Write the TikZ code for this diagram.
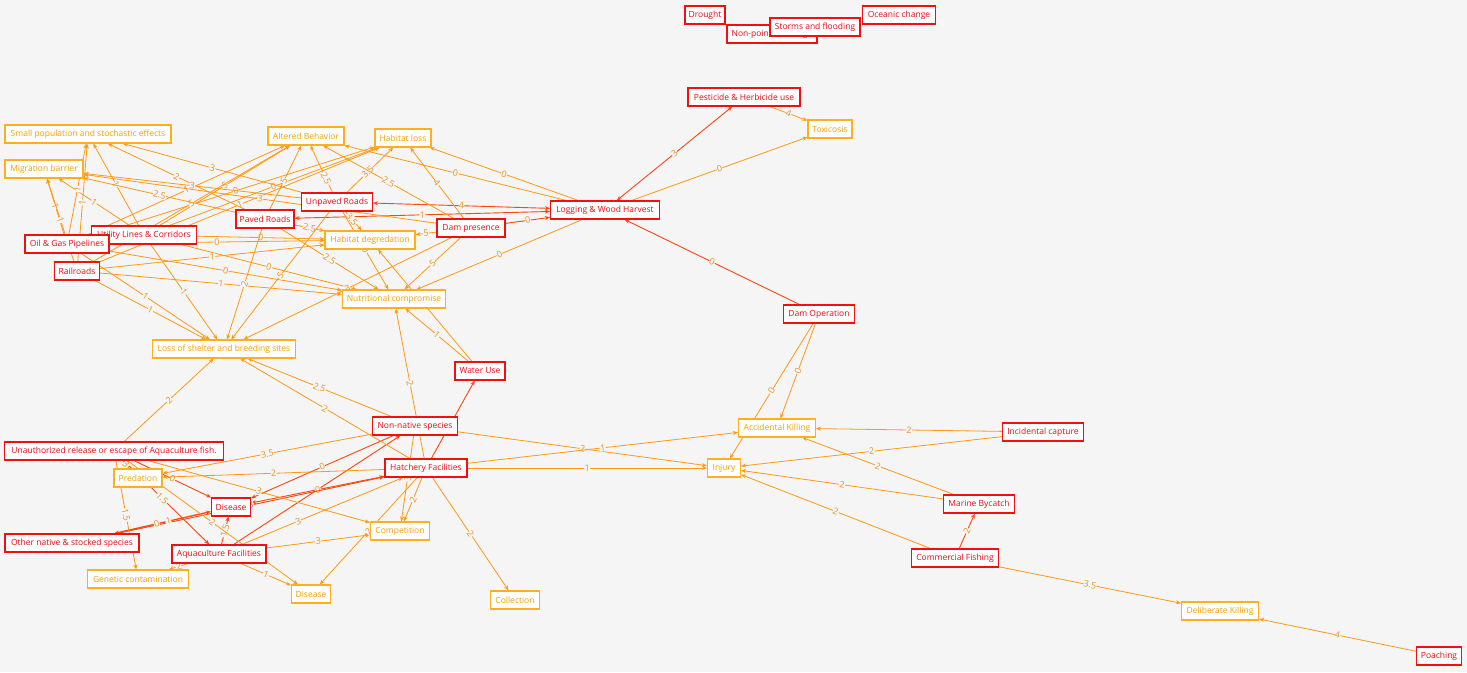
\documentclass[tikz,border=0pt]{standalone}
\usepackage{fontspec}
\setmainfont{Open Sans}
\usetikzlibrary{arrows.meta}
\pgfdeclarelayer{bglayer}
\pgfdeclarelayer{edgelayer}
\pgfsetlayers{bglayer,edgelayer,main}
\definecolor{bgc}{HTML}{F5F5F5}
\definecolor{cred}{HTML}{F01010}
\definecolor{ctext}{HTML}{E80A18}
\definecolor{oborder}{HTML}{FFAE1F}
\definecolor{otext}{HTML}{F5A000}
\definecolor{eor}{HTML}{FF9812}
\definecolor{ered}{HTML}{FF4510}
\definecolor{ltext}{HTML}{E8921E}
\begin{document}
\begin{tikzpicture}[x=1pt,y=-1pt,
  every node/.style={font=\fontsize{8.5}{10}\selectfont},
  cause/.style={draw=cred, line width=1.05, fill=white, text=ctext, minimum height=18, inner sep=1},
  eff/.style={draw=oborder, line width=1.05, fill=white, text=otext, minimum height=18, inner sep=1},
  e/.style={draw=eor, line width=0.8, -{Stealth[length=5,width=4]}},
  er/.style={draw=ered, line width=0.9, -{Stealth[length=5,width=4]}},
  ebr/.style={draw=ered, line width=0.9, {Stealth[length=5,width=4]}-{Stealth[length=5,width=4]}},
  lb/.style={fill=bgc, text=ltext, inner sep=0.4, sloped, font=\fontsize{9}{9}\selectfont}
]
\useasboundingbox (0,0) rectangle (1467,672);
\begin{pgfonlayer}{bglayer}
\fill[bgc] (0,0) rectangle (1467,672);
\end{pgfonlayer}

% cause nodes
\node[cause, minimum width=40] (drought) at (705,15) {Drought};
\node[cause, minimum width=90] (nonpoint) at (772,34) {Non-point discharge};
\node[cause, minimum width=90] (storms) at (815,27) {Storms and flooding};
\node[cause, minimum width=73] (oceanic) at (899,15) {Oceanic change};
\node[cause, minimum width=112] (pesticide) at (744,97) {Pesticide \& Herbicide use};
\node[cause, minimum width=109] (logging) at (605,210) {Logging \& Wood Harvest};
\node[cause, minimum width=71] (unpaved) at (337,202) {Unpaved Roads};
\node[cause, minimum width=58] (paved) at (265,219) {Paved Roads};
\node[cause, minimum width=68] (dampres) at (471,228) {Dam presence};
\node[cause, minimum width=105] (utility) at (144,235) {Utility Lines \& Corridors};
\node[cause, minimum width=84] (oilgas) at (67,244) {Oil \& Gas Pipelines};
\node[cause, minimum width=45] (railroads) at (77,271) {Railroads};
\node[cause, minimum width=71] (damop) at (819,314) {Dam Operation};
\node[cause, minimum width=50] (wateruse) at (480,371) {Water Use};
\node[cause, minimum width=85] (nonnative) at (415,426) {Non-native species};
\node[cause, minimum width=219] (unauth) at (114,451) {Unauthorized release or escape of Aquaculture fish.};
\node[cause, minimum width=82] (hatchery) at (426,468) {Hatchery Facilities};
\node[cause, minimum width=39] (diseaseR) at (231,507) {Disease};
\node[cause, minimum width=134] (othernative) at (72,543) {Other native \& stocked species};
\node[cause, minimum width=94] (aquaculture) at (219,554) {Aquaculture Facilities};
\node[cause, minimum width=81] (incidental) at (1043,432) {Incidental capture};
\node[cause, minimum width=71] (marine) at (979,504) {Marine Bycatch};
\node[cause, minimum width=87] (commercial) at (955,558) {Commercial Fishing};
\node[cause, minimum width=45] (poaching) at (1439,656) {Poaching};

% effect nodes
\node[eff, minimum width=166] (smallpop) at (88,134) {Small population and stochastic effects};
\node[eff, minimum width=78] (migration) at (44,169) {Migration barrier};
\node[eff, minimum width=76] (altered) at (306,136) {Altered Behavior};
\node[eff, minimum width=56] (habloss) at (403,138) {Habitat loss};
\node[eff, minimum width=44] (toxicosis) at (830,129) {Toxicosis};
\node[eff, minimum width=90] (habdeg) at (370,240) {Habitat degredation};
\node[eff, minimum width=103] (nutri) at (394,299) {Nutritional compromise};
\node[eff, minimum width=143] (shelter) at (224,349) {Loss of shelter and breeding sites};
\node[eff, minimum width=77] (accidental) at (777,428) {Accidental Killing};
\node[eff, minimum width=33] (injury) at (724,468) {Injury};
\node[eff, minimum width=48] (predation) at (138,478) {Predation};
\node[eff, minimum width=59] (competition) at (400,531) {Competition};
\node[eff, minimum width=101] (genetic) at (138,579) {Genetic contamination};
\node[eff, minimum width=39] (diseaseO) at (311,594) {Disease};
\node[eff, minimum width=49] (collection) at (515,600) {Collection};
\node[eff, minimum width=77] (deliberate) at (1220,611) {Deliberate Killing};

\begin{pgfonlayer}{edgelayer}
% red edges between causes
\draw[ebr] (logging) -- node[lb]{3} (pesticide);
\draw[ebr] (logging) -- node[lb]{4} (unpaved);
\draw[ebr] (logging) -- node[lb]{1} (paved);
\draw[er] (dampres) -- node[lb]{0} (logging);
\draw[er] (damop) -- node[lb]{0} (logging);
\draw[er] (commercial) -- node[lb]{2} (marine);
\draw[er] (hatchery) -- (wateruse);
\draw[er] (nonnative) -- node[lb]{0} (diseaseR);
\draw[er] (aquaculture) -- node[lb]{3} (nonnative);
\draw[ebr] (diseaseR) -- node[lb]{0} (hatchery);
\draw[er] (othernative) -- node[lb]{3} (hatchery);
\draw[er] (unauth) -- node[lb]{0} (diseaseR);
\draw[er] (unauth) -- node[lb, pos=0.45]{1.5} (aquaculture);
\draw[ebr, line width=1.3] (diseaseR) -- node[lb, pos=0.44]{1} node[lb, pos=0.56]{0} (othernative);
\draw[er] (aquaculture) -- node[lb]{1.5} (diseaseR);

% right side
\draw[e] (pesticide) -- node[lb]{4} (toxicosis);
\draw[e] (logging) -- node[lb]{0} (toxicosis);
\draw[e] (logging) -- node[lb]{0} (habloss);
\draw[e] (logging) -- node[lb]{0} (altered);
\draw[e] (logging) -- node[lb]{0} (nutri);
\draw[e] (damop) -- node[lb]{0} (accidental);
\draw[e] (damop) -- node[lb]{0} (injury);
\draw[e] (incidental) -- node[lb]{2} (accidental);
\draw[e] (incidental) -- node[lb]{2} (injury);
\draw[e] (marine) -- node[lb]{2} (accidental);
\draw[e] (marine) -- node[lb]{2} (injury);
\draw[e] (commercial) -- node[lb]{2} (injury);
\draw[e] (commercial) -- node[lb]{3.5} (deliberate);
\draw[e] (poaching) -- node[lb]{4} (deliberate);
\draw[e] (nonnative) -- node[lb]{2} (injury);
\draw[e] (hatchery) -- node[lb]{1} (accidental);
\draw[e] (hatchery) -- node[lb]{1} (injury);

% middle
\draw[e] (wateruse) -- node[lb]{1} (nutri);
\draw[e] (wateruse) -- node[lb]{3} (habdeg);
\draw[e] (hatchery) -- node[lb]{2} (nutri);
\draw[e] (nonnative) -- node[lb]{2.5} (shelter);
\draw[e] (hatchery) -- node[lb]{2} (shelter);
\draw[e] (unauth) -- node[lb]{2} (shelter);

% lower left
\draw[e] (nonnative) -- node[lb]{3.5} (predation);
\draw[e] (hatchery) -- node[lb]{2} (predation);
\draw[e] (unauth) -- node[lb]{3} (predation);
\draw[e] (unauth) -- node[lb]{1.5} (genetic);
\draw[e] (unauth) -- node[lb]{3} (competition);
\draw[e] (unauth) -- node[lb]{2} (diseaseO);
\draw[e] (aquaculture) -- node[lb]{2} (genetic);
\draw[e] (aquaculture) -- node[lb]{3} (competition);
\draw[e] (aquaculture) -- node[lb]{1} (diseaseO);
\draw[e] (aquaculture) -- node[lb, pos=0.35]{3} (hatchery);
\draw[e] (hatchery) -- node[lb]{2} (competition);
\draw[e] (nonnative) -- node[lb]{3} (competition);
\draw[e] (hatchery) -- node[lb]{2} (diseaseO);
\draw[e] (hatchery) -- node[lb]{2} (collection);

% upper cluster
\draw[e] (utility) -- node[lb]{1} (migration);
\draw[e] (utility) -- node[lb]{1} (smallpop);
\draw[e] (utility) -- node[lb]{5} (altered);
\draw[e] (utility) -- node[lb]{0} (habloss);
\draw[e] (utility) -- node[lb]{0} (habdeg);
\draw[e] (utility) -- node[lb]{0} (nutri);
\draw[e] (utility) -- node[lb]{1} (shelter);
\draw[e] (oilgas) -- node[lb]{1} (migration);
\draw[e] (oilgas) -- node[lb]{1} (smallpop);
\draw[e] (oilgas) -- node[lb]{1} (altered);
\draw[e] (oilgas) -- node[lb]{0} (habloss);
\draw[e] (oilgas) -- node[lb]{0} (habdeg);
\draw[e] (oilgas) -- node[lb]{0} (nutri);
\draw[e] (oilgas) -- node[lb]{1} (shelter);
\draw[e] (railroads) -- node[lb]{1} (migration);
\draw[e] (railroads) -- node[lb]{1} (smallpop);
\draw[e] (railroads) -- node[lb]{5} (altered);
\draw[e] (railroads) -- node[lb]{1} (habloss);
\draw[e] (railroads) -- node[lb]{1} (habdeg);
\draw[e] (railroads) -- node[lb]{1} (nutri);
\draw[e] (railroads) -- node[lb]{1} (shelter);
\draw[e] (paved) -- node[lb]{2.5} (migration);
\draw[e] (paved) -- node[lb]{2} (smallpop);
\draw[e] (paved) -- node[lb, pos=0.45]{5} (altered);
\draw[e] (paved) -- node[lb]{2.5} (habdeg);
\draw[e] (paved) -- node[lb]{2.5} (nutri);
\draw[e] (paved) -- node[lb]{2} (shelter);
\draw[e] (unpaved) -- node[lb]{3} (migration);
\draw[e] (unpaved) -- node[lb]{3} (smallpop);
\draw[e] (unpaved) -- node[lb, pos=0.3]{2.5} (altered);
\draw[e] (unpaved) -- node[lb, pos=0.45]{3.5} (habloss);
\draw[e] (unpaved) -- node[lb, pos=0.4]{3.5} (habdeg);
\draw[e] (unpaved) -- node[lb]{0} (nutri);
\draw[e] (unpaved) -- node[lb]{5} (shelter);
\draw[e] (dampres) -- node[lb]{3} (migration);
\draw[e] (dampres) -- node[lb]{2.5} (altered);
\draw[e] (dampres) -- node[lb]{4} (habloss);
\draw[e] (dampres) -- node[lb]{5} (habdeg);
\draw[e] (dampres) -- node[lb]{5} (nutri);
\draw[e] (dampres) -- node[lb]{3} (shelter);
\end{pgfonlayer}
\end{tikzpicture}
\end{document}
